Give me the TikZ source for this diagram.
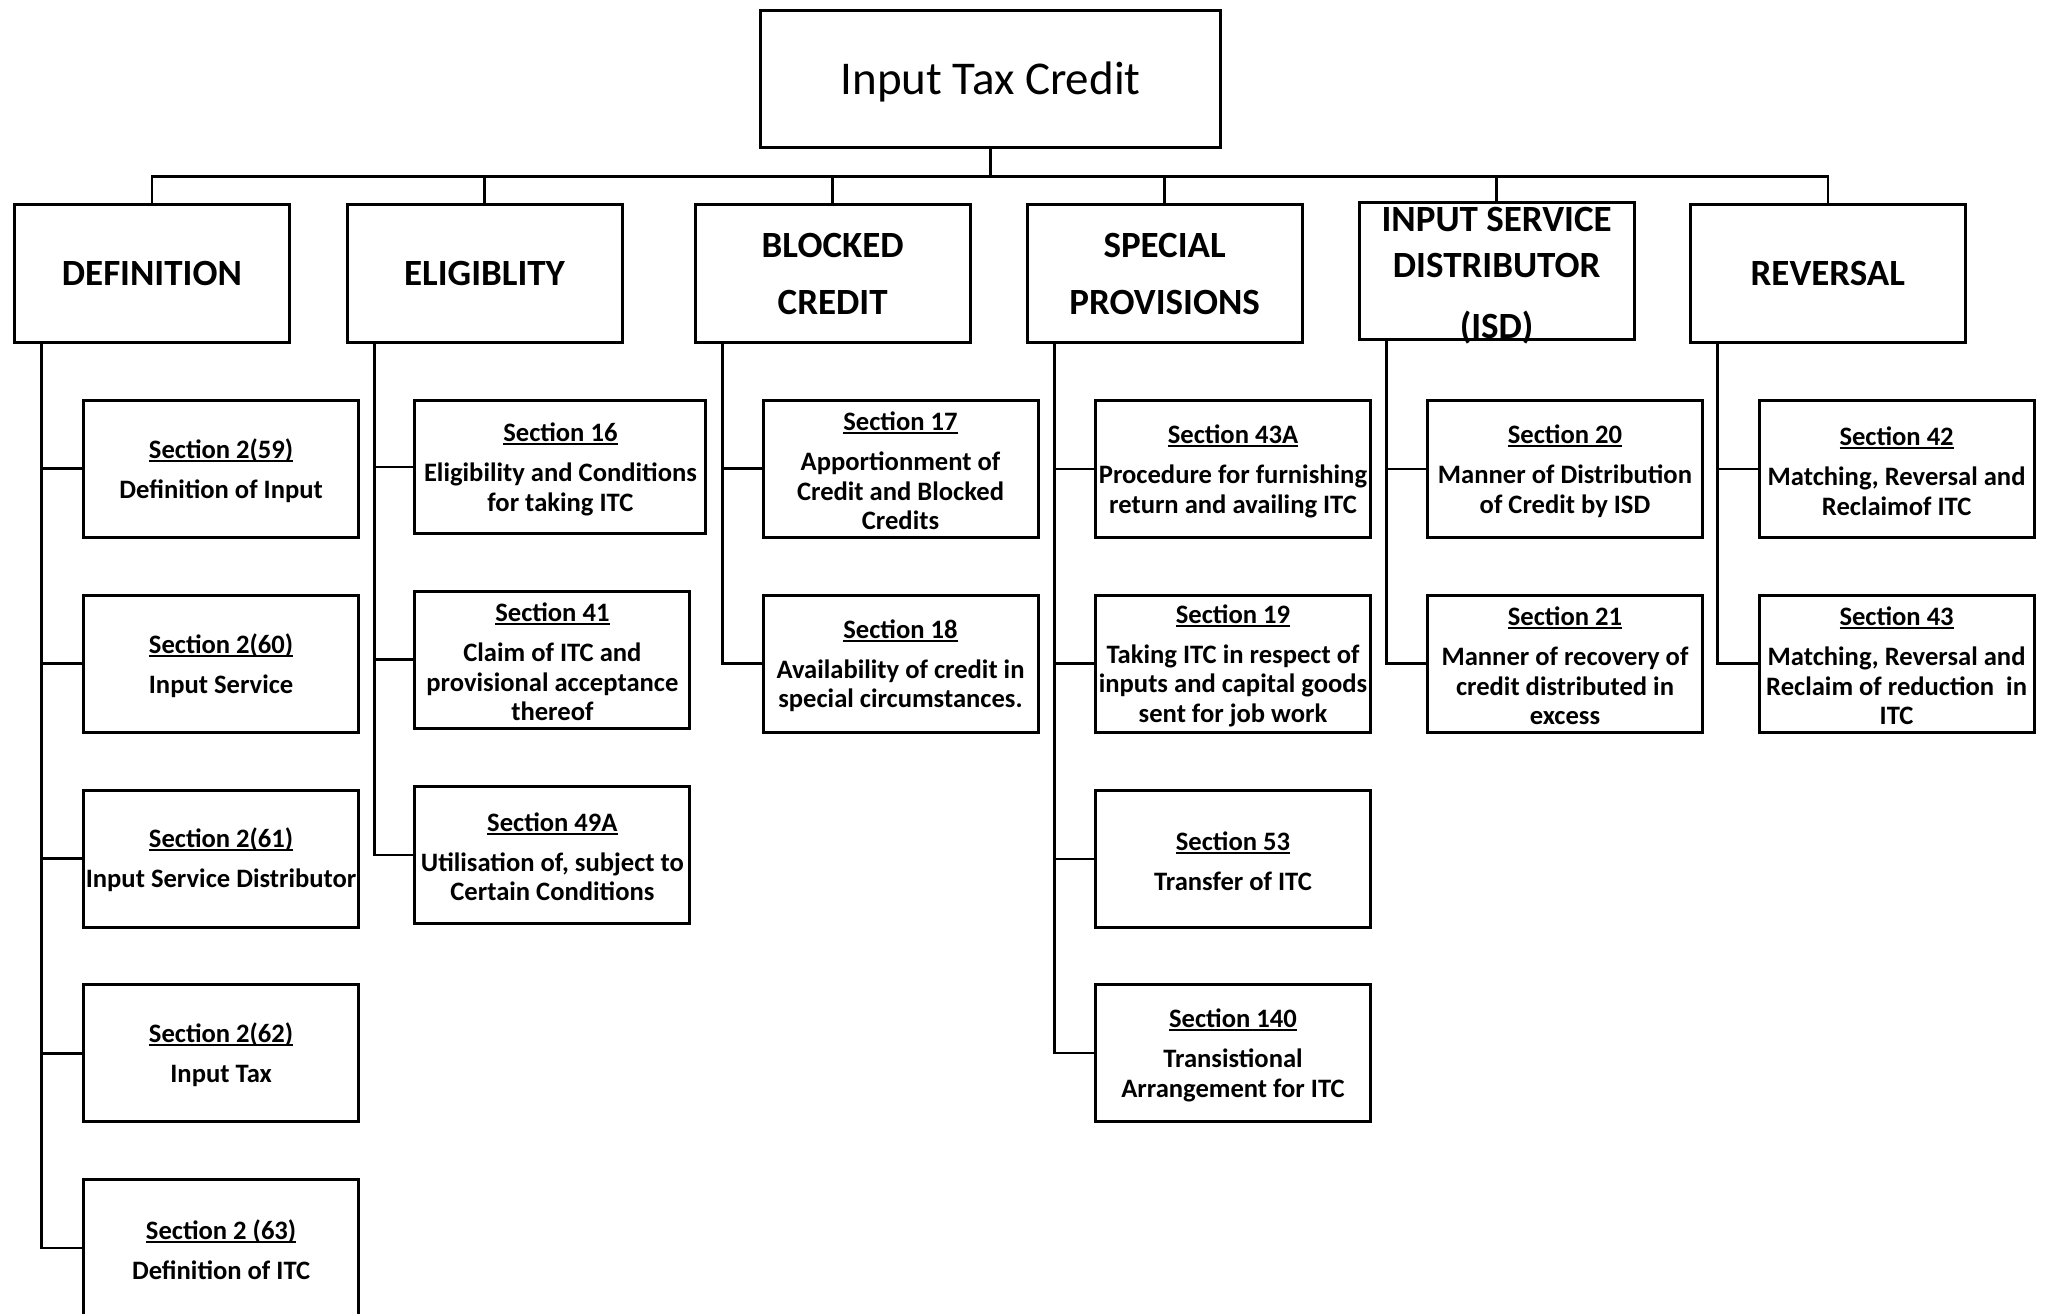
\documentclass[tikz,border=0pt]{standalone}
\usepackage{fontspec}
\setmainfont{Carlito}
\newcommand\ulin[1]{\setbox0\hbox{#1}\rlap{\rule[-3.5pt]{\wd0}{2pt}}\box0}
\newcommand\sectitle[1]{\rule{0pt}{23pt}\ulin{#1}\\[10.5pt]}
\tikzset{
  boxline/.style={draw=black, line width=3pt},
  topbox/.style={boxline, minimum width=460pt, minimum height=137pt, inner sep=0pt,
     font=\fontsize{47}{56}\selectfont},
  catbox/.style={boxline, minimum width=275pt, minimum height=138pt, inner sep=0pt, align=center,
     font=\fontsize{37}{57.4}\selectfont\bfseries},
  secbox/.style={boxline, minimum width=275pt, minimum height=137pt, inner sep=0pt, align=center,
     font=\fontsize{26.6}{29.5}\selectfont\bfseries},
  conn/.style={draw=black, line width=2.6pt},
}
\begin{document}
\begin{tikzpicture}[x=1pt, y=-1pt]
\useasboundingbox (0,0) rectangle (2045,1314);
% top
\node[topbox] (top) at (990.6,78.9) {\rule{0pt}{38pt}Input Tax Credit};
% level 1
\node[catbox] (def) at (151.9,273.9) {DEFINITION};
\node[catbox] (eli) at (484.5,273.9) {ELIGIBLITY};
\node[catbox] (blk) at (832.7,273.9) {BLOCKED\\CREDIT};
\node[catbox] (spe) at (1164.6,273.9) {SPECIAL\\PROVISIONS};
\node[catbox, minimum height=137pt] (isd) at (1496.6,270.9) {};
\node[inner sep=0pt, align=center, font=\fontsize{37}{45.8}\selectfont\bfseries] (isdtext) at (1496.6,276.1) {INPUT SERVICE\\DISTRIBUTOR\\[15.4pt](ISD)};
\node[catbox] (rev) at (1827.8,273.9) {REVERSAL};
% definition column
\node[secbox] (d59) at (221.1,468.7) {\sectitle{Section 2(59)}Definition of Input};
\node[secbox] (d60) at (221.1,663.6) {\sectitle{Section 2(60)}Input Service};
\node[secbox] (d61) at (221.1,858.5) {\sectitle{Section 2(61)}Input Service Distributor};
\node[secbox] (d62) at (221.1,1053.2) {\sectitle{Section 2(62)}Input Tax};
\node[secbox] (d63) at (221.1,1247.8) {\sectitle{Section 2 (63)}Definition of ITC};
% eligibility column
\node[secbox, minimum width=291pt, minimum height=133.6pt] (e16) at (560.4,467) {\sectitle{Section 16}Eligibility and Conditions\\for taking ITC};
\node[secbox] (e41) at (552.4,659.6) {\sectitle{Section 41}Claim of ITC and\\provisional acceptance\\thereof};
\node[secbox] (e49) at (552.4,854.8) {\sectitle{Section 49A}Utilisation of, subject to\\Certain Conditions};
% blocked column
\node[secbox] (b17) at (900.5,468.7) {\sectitle{Section 17}Apportionment of\\Credit and Blocked\\Credits};
\node[secbox] (b18) at (900.5,663.7) {\sectitle{Section 18}Availability of credit in\\special circumstances.};
% special column
\node[secbox] (s43a) at (1233,469) {\sectitle{Section 43A}Procedure for furnishing\\return and availing ITC};
\node[secbox] (s19) at (1233,663.6) {\sectitle{Section 19}Taking ITC in respect of\\inputs and capital goods\\sent for job work};
\node[secbox] (s53) at (1233,858.8) {\sectitle{Section 53}Transfer of ITC};
\node[secbox] (s140) at (1233,1053) {\sectitle{Section 140}Transistional\\Arrangement for ITC};
% isd column
\node[secbox] (i20) at (1565,469) {\sectitle{Section 20}Manner of Distribution\\of Credit by ISD};
\node[secbox] (i21) at (1565,663.6) {\sectitle{Section 21}Manner of recovery of\\credit distributed in\\excess};
% reversal column
\node[secbox] (r42) at (1896.6,469) {\sectitle{Section 42}Matching, Reversal and\\Reclaimof ITC};
\node[secbox] (r43) at (1896.6,663.6) {\sectitle{Section 43}Matching, Reversal and\\Reclaim of reduction~ in\\ITC};
% top connectors
\foreach \c in {def,eli,blk,spe,isd,rev}
  \draw[conn] (top.south) -- ++(0,27.6) -| (\c.north);
% side connectors
\foreach \c in {d59,d60,d61,d62,d63}
  \draw[conn] ([xshift=28.7pt]def.south west) |- (\c.west);
\foreach \c in {e16,e41,e49}
  \draw[conn] ([xshift=28.7pt]eli.south west) |- (\c.west);
\foreach \c in {b17,b18}
  \draw[conn] ([xshift=28.7pt]blk.south west) |- (\c.west);
\foreach \c in {s43a,s19,s53,s140}
  \draw[conn] ([xshift=28.7pt]spe.south west) |- (\c.west);
\foreach \c in {i20,i21}
  \draw[conn] ([xshift=28.7pt]isd.south west) |- (\c.west);
\foreach \c in {r42,r43}
  \draw[conn] ([xshift=28.7pt]rev.south west) |- (\c.west);
\end{tikzpicture}
\end{document}
